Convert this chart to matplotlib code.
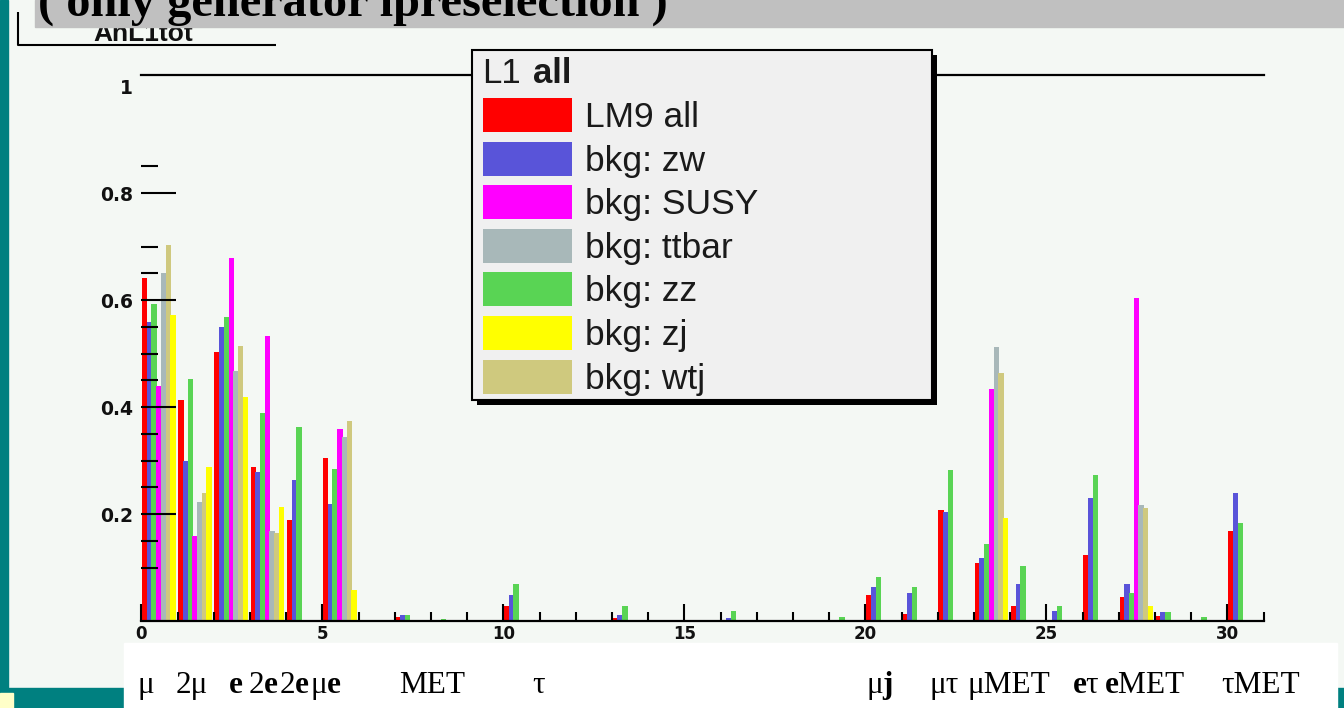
import matplotlib
matplotlib.use("Agg")
import numpy as np
import matplotlib.pyplot as plt
from matplotlib.patches import Rectangle
from matplotlib.ticker import FixedLocator, MultipleLocator
from matplotlib import font_manager

# ---------------- data ----------------
bins = np.arange(31)

lm9_all = [0.642, 0.413, 0.503, 0.288, 0.189, 0.304, 0, 0.008, 0, 0,
           0.028, 0, 0, 0.005, 0, 0, 0, 0, 0, 0,
           0.049, 0.013, 0.207, 0.108, 0.028, 0, 0.123, 0.044, 0.010, 0,
           0.168]
bkg_zw = [0.558, 0.299, 0.549, 0.278, 0.264, 0.219, 0, 0.011, 0, 0,
          0.048, 0, 0, 0.012, 0, 0, 0.005, 0, 0, 0,
          0.063, 0.053, 0.203, 0.118, 0.069, 0.019, 0.229, 0.069, 0.017, 0.002,
          0.239]
bkg_zz = [0.593, 0.452, 0.569, 0.388, 0.363, 0.284, 0, 0.011, 0.003, 0,
          0.069, 0, 0, 0.028, 0, 0, 0.018, 0, 0, 0.008,
          0.083, 0.063, 0.282, 0.143, 0.103, 0.028, 0.273, 0.053, 0.017, 0.007,
          0.184]
bkg_susy = [0.439, 0.159, 0.678, 0.533, 0, 0.358, 0, 0, 0, 0,
            0, 0, 0, 0, 0, 0, 0, 0, 0, 0,
            0, 0, 0, 0.433, 0, 0, 0, 0.603, 0, 0,
            0]
bkg_ttbar = [0.650, 0.223, 0.468, 0.168, 0, 0.343, 0, 0, 0, 0,
             0, 0, 0, 0, 0, 0, 0, 0, 0, 0,
             0, 0, 0, 0.513, 0, 0, 0, 0.217, 0, 0,
             0]
bkg_wtj = [0.703, 0.239, 0.514, 0.165, 0, 0.373, 0, 0, 0, 0,
           0, 0, 0, 0, 0, 0, 0, 0, 0, 0,
           0, 0, 0, 0.463, 0, 0, 0, 0.212, 0, 0,
           0]
bkg_zj = [0.572, 0.288, 0.418, 0.213, 0, 0.058, 0, 0, 0, 0,
          0, 0, 0, 0, 0, 0, 0, 0, 0, 0,
          0, 0, 0, 0.193, 0, 0, 0, 0.028, 0, 0,
          0]

series_labels = ["LM9 all", "bkg: zw", "bkg: SUSY", "bkg: ttbar",
                 "bkg: zz", "bkg: zj", "bkg: wtj"]
series_values = [lm9_all, bkg_zw, bkg_susy, bkg_ttbar, bkg_zz, bkg_zj, bkg_wtj]

y_tick_values = [0.2, 0.4, 0.6, 0.8, 1.0]
y_tick_labels = ["0.2", "0.4", "0.6", "0.8", "1"]
y_minor_values = [0.1, 0.15, 0.25, 0.3, 0.35, 0.45, 0.5, 0.55, 0.65, 0.7, 0.85]
x_tick_values = [0, 5, 10, 15, 20, 25, 30]
x_tick_labels = ["0", "5", "10", "15", "20", "25", "30"]

channel_labels = ["μ", "2μ", r"$\mathbf{e}$", r"2$\mathbf{e}$", r"2$\mathbf{e}$",
                  r"μ$\mathbf{e}$", "MET", "τ", r"μ$\mathbf{j}$", "μτ", "μMET",
                  r"$\mathbf{e}$τ", r"$\mathbf{e}$MET", "τMET"]

legend_title = "L1 all"
hist_title = "AnL1tot"
slide_title = "( only generator ipreselection )"

# ---------------- style ----------------
colors = {"LM9 all": "#ff0000", "bkg: zw": "#5954d9", "bkg: SUSY": "#ff00ff",
          "bkg: ttbar": "#a8b8b9", "bkg: zz": "#59d454", "bkg: zj": "#ffff00",
          "bkg: wtj": "#cfc97e"}
# left-to-right order of the bars inside each bin
bar_order = ["LM9 all", "bkg: zw", "bkg: zz", "bkg: SUSY", "bkg: ttbar",
             "bkg: wtj", "bkg: zj"]
bar_start, bar_step, bar_width = 0.02, 0.13, 0.15

# left edge (pixels) of each channel name written below the axis
channel_px = [137, 176, 228, 248, 279, 310, 399, 532, 866, 930, 968,
              1072, 1104, 1221]

canvas_color = "#f4f8f4"
teal = "#008080"

plt.rcParams["mathtext.fontset"] = "custom"
plt.rcParams["mathtext.bf"] = "Liberation Serif:bold"
plt.rcParams["mathtext.rm"] = "Liberation Serif"

available = {f.name for f in font_manager.fontManager.ttflist}
if "Liberation Sans Narrow" in available:
    xtick_font, xtick_size = "Liberation Sans Narrow", 15
else:
    xtick_font, xtick_size = "DejaVu Sans", 12

W, H = 1344, 708
fig = plt.figure(figsize=(W / 100, H / 100), dpi=100)
fig.patch.set_facecolor(canvas_color)


def fx(px):
    return px / W


def fy(py):
    return 1 - py / H


# ---------------- histogram frame ----------------
x0_px, x1_px, ybase_px, ytop_px = 141.3, 1263.6, 621, 74.5
ax = fig.add_axes([fx(x0_px), fy(ybase_px), fx(x1_px) - fx(x0_px),
                   fy(ytop_px) - fy(ybase_px)])
ax.set_xlim(0, 31)
ax.set_ylim(0, 1.0215)
ax.patch.set_visible(False)

values_by_name = dict(zip(series_labels, series_values))
for i, name in enumerate(bar_order):
    ax.bar(bins + bar_start + bar_step * i, values_by_name[name],
           width=bar_width, align="edge", color=colors[name],
           linewidth=0, zorder=1)

for side in ("left", "right"):
    ax.spines[side].set_visible(False)
for side in ("top", "bottom"):
    ax.spines[side].set_linewidth(1.6)
    ax.spines[side].set_color("black")

ax.set_xticks(x_tick_values, x_tick_labels, fontsize=xtick_size,
              fontfamily=xtick_font, fontweight="bold", color="#111111")
ax.xaxis.set_minor_locator(MultipleLocator(1))
ax.tick_params(axis="x", which="major", direction="in", length=12, width=1.5,
               top=False, bottom=True, pad=3)
ax.tick_params(axis="x", which="minor", direction="in", length=6.5,
               width=1.5, top=False, bottom=True)

ax.set_yticks(y_tick_values, y_tick_labels, fontsize=13.5,
              fontfamily="DejaVu Sans", fontweight="bold", color="#111111")
ax.yaxis.set_minor_locator(FixedLocator(y_minor_values))
ax.tick_params(axis="y", which="major", direction="in", length=25, width=1.5,
               left=True, right=False, pad=6)
ax.tick_params(axis="y", which="minor", direction="in", length=12.5,
               width=1.5, left=True, right=False)
# the top label sits without a tick mark
ax.yaxis.get_major_ticks()[-1].tick1line.set_visible(False)

# ---------------- page decoration, title box, legend ----------------
oa = fig.add_axes([0, 0, 1, 1])
oa.set_xlim(0, W)
oa.set_ylim(H, 0)
oa.axis("off")
oa.patch.set_visible(False)

# histogram title box
oa.text(143, 41, hist_title, ha="center", va="baseline", fontsize=19,
        family="Liberation Sans", fontweight="bold", color="#111111", zorder=2)
oa.plot([17.5, 17.5, 276], [12, 45, 45], color="black", lw=1.5, zorder=2,
        solid_capstyle="butt")

# slide title bar
oa.add_patch(Rectangle((35, 0), W - 35, 27, color="#c0c0c0", zorder=3))
oa.text(38, 16, slide_title, ha="left", va="baseline", fontsize=34.8,
        family="Liberation Serif", fontweight="bold", color="black", zorder=4)

# page borders
oa.add_patch(Rectangle((0, 0), 8, 688, color=teal, zorder=5))
oa.add_patch(Rectangle((0, 688), 124, 20, color=teal, zorder=5))
oa.add_patch(Rectangle((1337, 688), 7, 20, color=teal, zorder=5))
oa.add_patch(Rectangle((0, 693), 13, 15, color="#ffffc8", zorder=6))

# channel names under the axis
oa.add_patch(Rectangle((124, 643), 1213, 65, color="white", zorder=5))
for lab, xp in zip(channel_labels, channel_px):
    oa.text(xp, 693, lab, ha="left", va="baseline", fontsize=22.5,
            family="Liberation Serif", color="black", zorder=6)

# legend
lx0, ly0, lx1, ly1 = 472, 50, 932, 400
oa.add_patch(Rectangle((lx0 + 4.5, ly0 + 4.5), lx1 - lx0, ly1 - ly0,
                       facecolor="black", edgecolor="none", zorder=7))
oa.add_patch(Rectangle((lx0, ly0), lx1 - lx0, ly1 - ly0, facecolor="#f0f0f0",
                       edgecolor="black", lw=1.5, zorder=8))
head, tail = legend_title.split(" ", 1)
oa.text(482, 83, head, ha="left", va="baseline", fontsize=25,
        family="Liberation Sans", color="#1a1a1a", zorder=9)
oa.text(533, 83, tail, ha="left", va="baseline",
        fontsize=25, family="Liberation Sans", fontweight="bold",
        color="#1a1a1a", zorder=9)
for k, name in enumerate(series_labels):
    yc = 115 + 43.6 * k
    oa.add_patch(Rectangle((483, yc - 17), 89, 34, facecolor=colors[name],
                           edgecolor="none", zorder=9))
    oa.text(585, yc + 12, name, ha="left", va="baseline", fontsize=25.5,
            family="Liberation Sans", color="#1a1a1a", zorder=9)

fig.savefig("out.png", dpi=100, facecolor=fig.get_facecolor())
